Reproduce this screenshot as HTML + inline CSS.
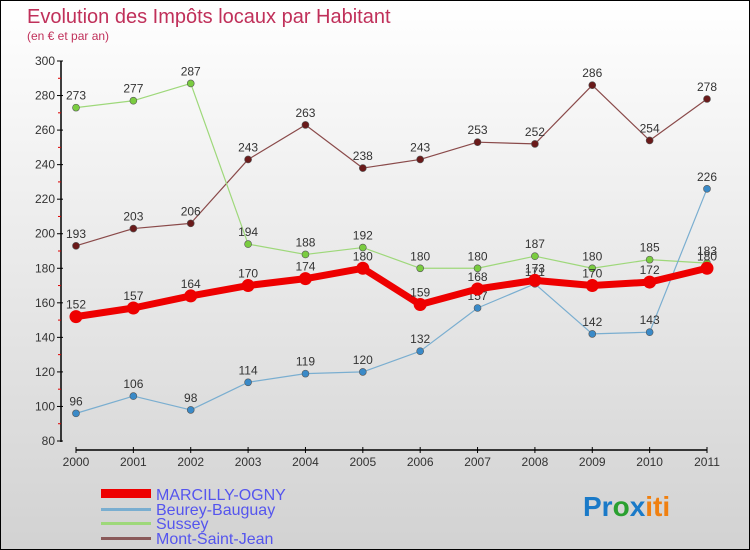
<!DOCTYPE html>
<html><head><meta charset="utf-8"><style>
body{margin:0}
#c{width:750px;height:550px;position:relative;box-sizing:border-box;border:1px solid #000;background:linear-gradient(#fff,#d2d2d2);font-family:"Liberation Sans",sans-serif;overflow:hidden}
</style></head><body>
<div id="c">
<svg id="s" width="750" height="550" style="position:absolute;left:0;top:0">
<text x="26" y="22" font-size="20" fill="#c0305a">Evolution des Impôts locaux par Habitant</text>
<text x="26" y="39" font-size="12" fill="#c0305a">(en € et par an)</text>
<g id="axes"></g><g id="series"></g>
<g>
<rect x="100" y="488" width="50" height="9" fill="#e00"/>
<text x="155" y="499" font-size="16" fill="#5555ee">MARCILLY-OGNY</text>
<rect x="100" y="507" width="50" height="3" fill="#7aaed0"/>
<text x="155" y="514" font-size="16" fill="#5555ee">Beurey-Bauguay</text>
<rect x="100" y="521" width="50" height="3" fill="#9ed87a"/>
<text x="155" y="528" font-size="16" fill="#5555ee">Sussey</text>
<rect x="100" y="536" width="50" height="3" fill="#8a5a5a"/>
<text x="155" y="543" font-size="16" fill="#5555ee">Mont-Saint-Jean</text>
</g>
<text x="582" y="515" font-size="28" font-weight="bold"><tspan fill="#1a7ac8">Pr</tspan><tspan fill="#2aa030">o</tspan><tspan fill="#1a7ac8">x</tspan><tspan fill="#f08010">iti</tspan></text>
</svg>
</div>
<script>
const years=["2000","2001","2002","2003","2004","2005","2006","2007","2008","2009","2010","2011"];
const yTicks=[80,100,120,140,160,180,200,220,240,260,280,300];
const marcilly=[152,157,164,170,174,180,159,168,173,170,172,180];
const beurey=[96,106,98,114,119,120,132,157,171,142,143,226];
const sussey=[273,277,287,194,188,192,180,180,187,180,185,183];
const mont=[193,203,206,243,263,238,243,253,252,286,254,278];
const NS="http://www.w3.org/2000/svg";
const X=i=>75+i*(706-75)/11;
const Y=v=>440-(v-80)*380/220;
function mk(t,a,p){const e=document.createElementNS(NS,t);for(const k in a)e.setAttribute(k,a[k]);p.appendChild(e);return e;}
const ax=document.getElementById('axes');
let e=mk('line',{x1:60,y1:60,x2:60,y2:441,stroke:'#000','stroke-width':1.5},ax);

yTicks.forEach((v,i)=>{
 let t=mk('line',{x1:56,x2:62,y1:Y(v),y2:Y(v),stroke:'#000'},ax);
 
 let l=mk('text',{x:54,y:Y(v)+4,'font-size':12,fill:'#333','text-anchor':'end'},ax);l.textContent=v;
 
 if(i<yTicks.length-1){for(const f of [0.5]){let m=mk('line',{x1:57,x2:60,y1:Y(v+20*f),y2:Y(v+20*f),stroke:'#d00'},ax);
 }}
});
e=mk('line',{x1:75,y1:449,x2:706,y2:449,stroke:'#000','stroke-width':1.5},ax);

years.forEach((y,i)=>{
 let t=mk('line',{x1:X(i),x2:X(i),y1:446,y2:452,stroke:'#000'},ax);
 
 let l=mk('text',{x:X(i),y:465,'font-size':12,fill:'#333','text-anchor':'middle'},ax);l.textContent=y;
 
});
const sg=document.getElementById('series');
function draw(name,vals,col,w,r,dot){
 const g=mk('g',{},sg);
 const pl=mk('polyline',{points:vals.map((v,i)=>X(i)+','+Y(v)).join(' '),fill:'none',stroke:col,'stroke-width':w,'stroke-linejoin':'round'},g);
 
 vals.forEach((v,i)=>{
  const c=mk('circle',{cx:X(i),cy:Y(v),r:r,fill:dot,stroke:'#555','stroke-width':r>5?0:0.6},g);
  
  const t=mk('text',{x:X(i),y:Y(v)-8,'font-size':12,fill:'#333','text-anchor':'middle'},g);t.textContent=v;
  
 });
}
draw('mont',mont,'#8a4a4a',1.2,3.5,'#6a1a1a');
draw('sussey',sussey,'#9ed87a',1.2,3.5,'#7acc40');
draw('beurey',beurey,'#7aaed0',1.2,3.5,'#3a8ac8');
draw('marcilly',marcilly,'#ee0000',7,6.5,'#ee0000');
</script>
</body></html>
